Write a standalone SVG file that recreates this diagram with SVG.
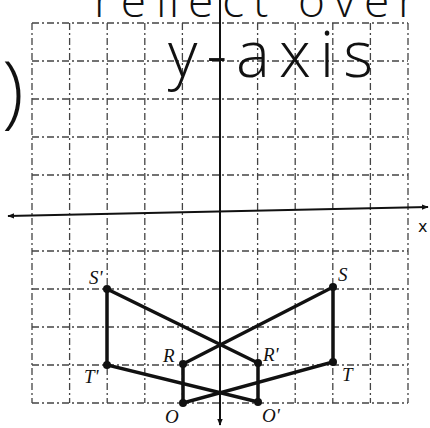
<svg xmlns="http://www.w3.org/2000/svg" width="430" height="428" viewBox="0 0 430 428">
<style>
.grid{stroke:#444;stroke-width:1.3;stroke-dasharray:7 3 2 3;fill:none}
.axis{stroke:#111;stroke-width:2;fill:none}
.edge{stroke:#111;stroke-width:3.5;fill:none;stroke-linecap:round}
.pt{fill:#111}
.lbl{font-family:"Liberation Serif",serif;font-style:italic;font-size:19px;fill:#111}
.hand{font-family:"Open Sans","DejaVu Sans",sans-serif;font-weight:300;fill:#111}
</style>
<defs>
<marker id="ah" viewBox="0 0 10 10" refX="9" refY="5" markerWidth="7" markerHeight="7" orient="auto-start-reverse" markerUnits="userSpaceOnUse">
<path d="M0,1 L10,5 L0,9 Z" fill="#111"/>
</marker>
</defs>
<rect width="430" height="428" fill="#fff"/>
<g id="grid">
<path class="grid" d="M32,23V403M69.6,23V403M107.2,23V403M144.8,23V403M182.4,23V403M257.6,23V403M295.2,23V403M332.8,23V403M370.4,23V403M408,23V403"/>
<path class="grid" d="M32,23H408M32,61H408M32,99H408M32,137H408M32,175H408M32,251H408M32,289H408M32,327H408M32,365H408M32,403H408"/>
</g>
<g id="axes">
<line class="axis" x1="220" y1="0" x2="220" y2="425" marker-end="url(#ah)"/>
<line class="axis" x1="8" y1="216" x2="428" y2="207" marker-start="url(#ah)" marker-end="url(#ah)"/>
<text x="418" y="232" style="font-family:'DejaVu Sans',sans-serif;font-size:16px;fill:#111">x</text>
</g>
<g id="handwriting">
<text class="hand" x="94" y="17" font-size="46" textLength="322" lengthAdjust="spacing">reflect over</text>
<text class="hand" x="168" y="77" font-size="64" textLength="205" lengthAdjust="spacing">y-axis</text>
<text class="hand" x="2" y="118" font-size="80">)</text>
</g>
<g id="connectors">
<path class="edge" d="M333,287L333,362L183,403L183,364Z"/>
<path class="edge" d="M107,289L107,365L258,402L258,363Z"/>
</g>
<g id="S"><circle class="pt" cx="333" cy="287" r="4"/><text class="lbl" x="338" y="281">S</text></g>
<g id="T"><circle class="pt" cx="333" cy="362" r="4"/><text class="lbl" x="342" y="381">T</text></g>
<g id="R"><circle class="pt" cx="183" cy="364" r="4"/><text class="lbl" x="163" y="362">R</text></g>
<g id="O"><circle class="pt" cx="183" cy="403" r="4"/><text class="lbl" x="165" y="423">O</text></g>
<g id="S-prime"><circle class="pt" cx="107" cy="289" r="4"/><text class="lbl" x="89" y="284">S'</text></g>
<g id="T-prime"><circle class="pt" cx="107" cy="365" r="4"/><text class="lbl" x="84" y="383">T'</text></g>
<g id="R-prime"><circle class="pt" cx="258" cy="363" r="4"/><text class="lbl" x="263" y="361">R'</text></g>
<g id="O-prime"><circle class="pt" cx="258" cy="402" r="4"/><text class="lbl" x="262" y="422">O'</text></g>
</svg>
